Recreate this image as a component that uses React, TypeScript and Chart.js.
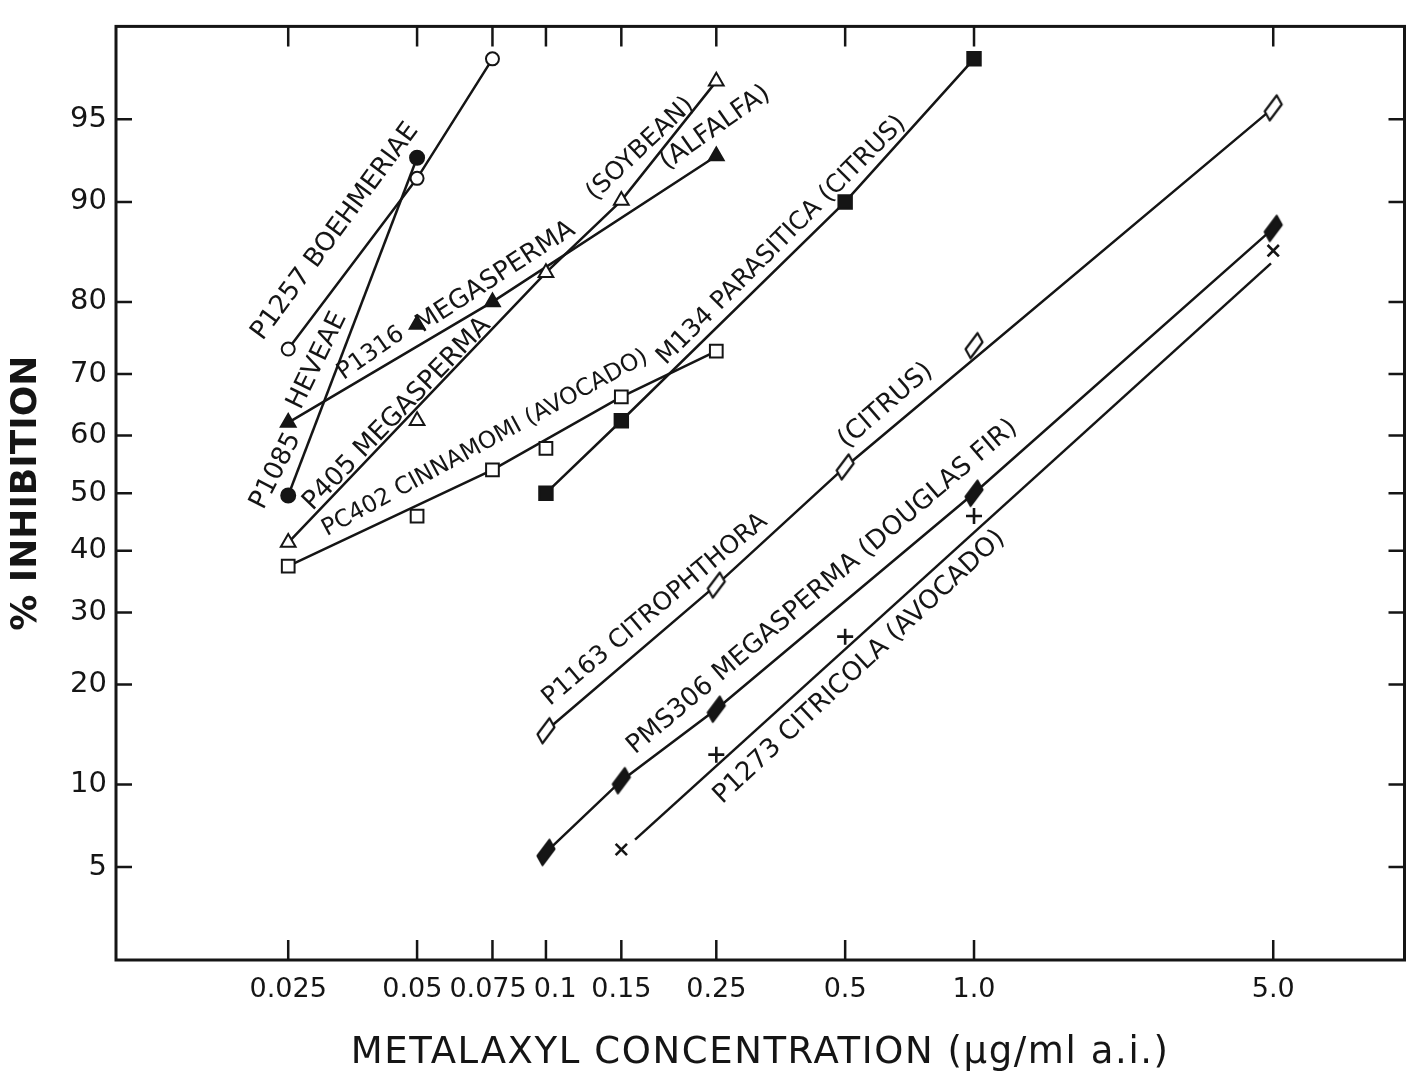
import React, { useEffect, useRef } from 'react';
import { Chart, Scale, registerables } from 'chart.js';

// ---------- axis ticks ----------
const X_TICKS = [0.025, 0.05, 0.075, 0.1, 0.15, 0.25, 0.5, 1.0, 5.0];
const X_TICK_LABELS = ['0.025', '0.05', '0.075', '0.1', '0.15', '0.25', '0.5', '1.0', '5.0'];
const Y_TICKS = [5, 10, 20, 30, 40, 50, 60, 70, 80, 90, 95];
const X_MIN = 0.0099;
const X_MAX = 10.13;
const Y_MIN = 2;
const Y_MAX = 98;
const X_TITLE = 'METALAXYL CONCENTRATION (µg/ml a.i.)';
const Y_TITLE = '% INHIBITION';

// ---------- series (concentration µg/ml, % inhibition) ----------
const P1257_X = [0.025, 0.05, 0.075];
const P1257_Y = [73.7, 91.7, 97.2];

const P1085_X = [0.025, 0.05];
const P1085_Y = [49.6, 93.0];

const P1316_X = [0.025, 0.05, 0.075, 0.25];
const P1316_Y = [62.2, 77.1, 80.0, 93.1];
const P1316_LINE_X = [0.025, 0.075, 0.25];
const P1316_LINE_Y = [62.2, 80.0, 93.1];

const P405_X = [0.025, 0.05, 0.1, 0.15, 0.25];
const P405_Y = [41.4, 62.5, 83.4, 90.1, 96.5];
const P405_LINE_X = [0.025, 0.1, 0.15, 0.25];
const P405_LINE_Y = [41.4, 83.4, 90.1, 96.5];

const PC402_X = [0.025, 0.05, 0.075, 0.1, 0.15, 0.25];
const PC402_Y = [37.4, 46.0, 54.1, 57.8, 66.4, 73.4];
const PC402_LINE_X = [0.025, 0.075, 0.15, 0.25];
const PC402_LINE_Y = [37.4, 54.1, 66.4, 73.4];

const M134_X = [0.1, 0.15, 0.5, 1.0];
const M134_Y = [50.0, 62.5, 90.0, 97.2];

const P1163_X = [0.1, 0.25, 0.5, 1.0, 5.0];
const P1163_Y = [14.8, 34.3, 54.6, 74.2, 95.5];
const P1163_LINE_X = [0.1, 0.25, 0.5, 5.0];
const P1163_LINE_Y = [14.8, 34.3, 54.6, 95.5];

const PMS306_X = [0.1, 0.15, 0.25, 1.0, 5.0];
const PMS306_Y = [5.7, 10.3, 17.1, 50.0, 87.8];

const P1273_X = [0.15, 0.25, 0.5, 1.0, 5.0];
const P1273_Y = [5.85, 12.5, 26.4, 46.0, 85.7];
const P1273_LINE_X = [0.1615, 4.94];
const P1273_LINE_Y = [6.37, 84.4];

// ---------- curve labels ----------
const LABEL_TEXT = [
  'P1257 BOEHMERIAE',
  'P1085',
  'HEVEAE',
  'P1316',
  'MEGASPERMA',
  '(ALFALFA)',
  'P405 MEGASPERMA',
  '(SOYBEAN)',
  'PC402 CINNAMOMI (AVOCADO)',
  'M134 PARASITICA (CITRUS)',
  'P1163 CITROPHTHORA',
  '(CITRUS)',
  'PMS306 MEGASPERMA (DOUGLAS FIR)',
  'P1273 CITRICOLA (AVOCADO)',
];
const LABEL_X = [0.0322, 0.0234, 0.02925, 0.039, 0.0763, 0.2487, 0.0449, 0.1663, 0.0721, 0.3553, 0.1798, 0.622, 0.4425, 0.5398];
const LABEL_Y = [87.5, 53.9, 72.0, 73.05, 82.9, 94.6, 63.6, 93.5, 58.7, 86.7, 30.4, 65.0, 33.97, 22.2];
const LABEL_ANGLE = [-53.5, -63, -64, -35, -33, -35, -46, -43.5, -28.5, -45, -40, -41, -40.3, -43];
const LABEL_SIZE = [26, 26, 26, 24, 26, 26, 26, 25, 23.5, 25, 25, 26, 26, 26];

const INK = '#151515';
const X_TICK_FONT = '27px "DejaVu Sans"';

// ---------- probit helpers ----------
function normCdf(z: number): number {
  const x = Math.abs(z) / Math.SQRT2;
  const t = 1 / (1 + 0.3275911 * x);
  const erf =
    1 -
    ((((1.061405429 * t - 1.453152027) * t + 1.421413741) * t - 0.284496736) * t + 0.254829592) *
      t *
      Math.exp(-x * x);
  return z >= 0 ? 0.5 * (1 + erf) : 0.5 * (1 - erf);
}

function probit(p: number): number {
  const a = [-3.969683028665376e1, 2.209460984245205e2, -2.759285104469687e2, 1.38357751867269e2, -3.066479806614716e1, 2.506628277459239];
  const b = [-5.447609879822406e1, 1.615858368580409e2, -1.556989798598866e2, 6.680131188771972e1, -1.328068155288572e1];
  const c = [-7.784894002430293e-3, -3.223964580411365e-1, -2.400758277161838, -2.549732539343734, 4.374664141464968, 2.938163982698783];
  const d = [7.784695709041462e-3, 3.224671290700398e-1, 2.445134137142996, 3.754408661907416];
  const pl = 0.02425;
  const ph = 1 - pl;
  if (p <= 0) return -8;
  if (p >= 1) return 8;
  if (p < pl) {
    const q = Math.sqrt(-2 * Math.log(p));
    return (((((c[0] * q + c[1]) * q + c[2]) * q + c[3]) * q + c[4]) * q + c[5]) / ((((d[0] * q + d[1]) * q + d[2]) * q + d[3]) * q + 1);
  }
  if (p <= ph) {
    const q = p - 0.5;
    const r = q * q;
    return ((((((a[0] * r + a[1]) * r + a[2]) * r + a[3]) * r + a[4]) * r + a[5]) * q) / (((((b[0] * r + b[1]) * r + b[2]) * r + b[3]) * r + b[4]) * r + 1);
  }
  const q = Math.sqrt(-2 * Math.log(1 - p));
  return -(((((c[0] * q + c[1]) * q + c[2]) * q + c[3]) * q + c[4]) * q + c[5]) / ((((d[0] * q + d[1]) * q + d[2]) * q + d[3]) * q + 1);
}

// Probability (probit) axis for percentages
class ProbitScale extends Scale {
  static id = 'probit';
  static defaults = {};

  determineDataLimits() {
    const { min, max } = (this as any).getUserBounds();
    (this as any).min = isFinite(min) ? min : 1;
    (this as any).max = isFinite(max) ? max : 99;
  }

  buildTicks() {
    const vals: number[] = ((this as any).options.ticks && (this as any).options.ticks.values) || [];
    return vals.map((v) => ({ value: v }));
  }

  getLabelForValue(value: number) {
    return String(value);
  }

  configure() {
    super.configure();
    (this as any)._zMin = probit((this as any).min / 100);
    (this as any)._zMax = probit((this as any).max / 100);
  }

  getPixelForValue(value: number) {
    if (value === null || value === undefined || isNaN(value)) return NaN;
    const s = this as any;
    const z = probit(value / 100);
    return s.getPixelForDecimal((z - s._zMin) / (s._zMax - s._zMin));
  }

  getValueForPixel(pixel: number) {
    const s = this as any;
    const dec = s.getDecimalForPixel(pixel);
    return normCdf(s._zMin + dec * (s._zMax - s._zMin)) * 100;
  }

  getPixelForTick(index: number) {
    const t = (this as any).ticks[index];
    return t ? this.getPixelForValue(t.value) : NaN;
  }
}

Chart.register(...registerables, ProbitScale as any);

function pts(xs: number[], ys: number[]) {
  return xs.map((x, i) => ({ x, y: ys[i] }));
}

function makeDiamond(filled: boolean): HTMLCanvasElement {
  const c = document.createElement('canvas');
  c.width = 24;
  c.height = 32;
  const g = c.getContext('2d')!;
  g.translate(12, 16);
  g.beginPath();
  g.moveTo(3.5, -12.5);
  g.lineTo(8.5, -3.5);
  g.lineTo(-3.5, 12.5);
  g.lineTo(-8.5, 3.5);
  g.closePath();
  g.lineJoin = 'round';
  g.lineWidth = 2.2;
  g.strokeStyle = INK;
  g.fillStyle = filled ? INK : '#ffffff';
  g.fill();
  g.stroke();
  return c;
}

const framePlugin = {
  id: 'frameTicks',
  afterDraw(chart: any) {
    const { ctx, chartArea: a, scales } = chart;
    const x = scales.x;
    const y = scales.y;
    ctx.save();
    ctx.strokeStyle = INK;
    ctx.lineWidth = 2.5;
    ctx.beginPath();
    X_TICKS.forEach((v) => {
      const px = x.getPixelForValue(v);
      ctx.moveTo(px, a.bottom);
      ctx.lineTo(px, a.bottom - 20);
      ctx.moveTo(px, a.top);
      ctx.lineTo(px, a.top + 20);
    });
    Y_TICKS.forEach((v) => {
      const py = y.getPixelForValue(v);
      ctx.moveTo(a.left, py);
      ctx.lineTo(a.left + 16, py);
      ctx.moveTo(a.right, py);
      ctx.lineTo(a.right - 16, py);
    });
    ctx.stroke();
    ctx.lineWidth = 3;
    ctx.strokeRect(a.left, a.top, a.right - a.left, a.bottom - a.top);

    // x tick labels: centred on their ticks, nudged apart where neighbours would touch
    ctx.fillStyle = INK;
    ctx.font = X_TICK_FONT;
    ctx.textAlign = 'left';
    ctx.textBaseline = 'middle';
    const items = X_TICK_LABELS.map((t, i) => {
      const w = ctx.measureText(t).width;
      const c = x.getPixelForValue(X_TICKS[i]);
      return { t, w, l: c - w / 2 };
    });
    const GAP = 7;
    for (let iter = 0; iter < 20; iter++) {
      for (let i = 0; i < items.length - 1; i++) {
        const A = items[i];
        const B = items[i + 1];
        const ov = A.l + A.w + GAP - B.l;
        if (ov > 0) {
          A.l -= ov / 2;
          B.l += ov / 2;
        }
      }
    }
    items.forEach((it) => ctx.fillText(it.t, it.l, a.bottom + 30));

    // x-axis title (spaced lettering)
    ctx.font = '37px "DejaVu Sans"';
    try {
      (ctx as any).letterSpacing = '1.6px';
    } catch (e) {
      /* ignore */
    }
    ctx.textAlign = 'center';
    ctx.fillText(X_TITLE, (a.left + a.right) / 2, x.bottom - 25);
    try {
      (ctx as any).letterSpacing = '0px';
    } catch (e) {
      /* ignore */
    }
    ctx.restore();
  },
};

const labelPlugin = {
  id: 'curveLabels',
  afterDatasetsDraw(chart: any) {
    const { ctx, scales } = chart;
    const x = scales.x;
    const y = scales.y;
    LABEL_TEXT.forEach((t, i) => {
      const px = x.getPixelForValue(LABEL_X[i]);
      const py = y.getPixelForValue(LABEL_Y[i]);
      ctx.save();
      ctx.translate(px, py);
      ctx.rotate((LABEL_ANGLE[i] * Math.PI) / 180);
      ctx.font = `${LABEL_SIZE[i]}px "DejaVu Sans"`;
      ctx.fillStyle = INK;
      ctx.textAlign = 'center';
      ctx.textBaseline = 'middle';
      ctx.fillText(t, 0, 0);
      ctx.restore();
    });
  },
};

export default function App() {
  const ref = useRef<HTMLCanvasElement>(null);

  useEffect(() => {
    if (!ref.current) return;
    const openDiamond = makeDiamond(false);
    const filledDiamond = makeDiamond(true);

    const lineOnly = (data: any[]) => ({
      data,
      showLine: true,
      borderColor: INK,
      borderWidth: 2.5,
      pointRadius: 0,
      tension: 0,
      fill: false,
      order: 2,
    });
    const markers = (data: any[], style: any, filled: boolean, radius: number, withLine: boolean, bw = 2) => ({
      data,
      showLine: withLine,
      borderColor: INK,
      borderWidth: 2.5,
      tension: 0,
      fill: false,
      pointStyle: style,
      pointRadius: radius,
      pointBorderWidth: bw,
      pointBorderColor: INK,
      pointBackgroundColor: filled ? INK : '#ffffff',
      order: withLine ? 1 : 0,
    });

    const datasets: any[] = [
      markers(pts(P1257_X, P1257_Y), 'circle', false, 6.5, true),
      markers(pts(P1085_X, P1085_Y), 'circle', true, 7, true),
      lineOnly(pts(P1316_LINE_X, P1316_LINE_Y)),
      markers(pts(P1316_X, P1316_Y), 'triangle', true, 8.5, false),
      lineOnly(pts(P405_LINE_X, P405_LINE_Y)),
      markers(pts(P405_X, P405_Y), 'triangle', false, 8.5, false),
      lineOnly(pts(PC402_LINE_X, PC402_LINE_Y)),
      markers(pts(PC402_X, PC402_Y), 'rect', false, 9, false),
      markers(pts(M134_X, M134_Y), 'rect', true, 9.5, true),
      lineOnly(pts(P1163_LINE_X, P1163_LINE_Y)),
      markers(pts(P1163_X, P1163_Y), openDiamond, false, 8, false),
      markers(pts(PMS306_X, PMS306_Y), filledDiamond, true, 8, true),
      lineOnly(pts(P1273_LINE_X, P1273_LINE_Y)),
      markers(pts(P1273_X, P1273_Y), ['crossRot', 'cross', 'cross', 'cross', 'crossRot'], false, 8, false, 2.6),
    ];

    const chart = new Chart(ref.current, {
      type: 'line',
      data: { datasets },
      options: {
        animation: false,
        responsive: false,
        maintainAspectRatio: false,
        layout: { padding: { top: 13, right: 7, left: 0, bottom: 0 } },
        plugins: { legend: { display: false }, tooltip: { enabled: false } },
        scales: {
          x: {
            type: 'logarithmic',
            position: 'bottom',
            min: X_MIN,
            max: X_MAX,
            bounds: 'data',
            afterBuildTicks: (s: any) => {
              s.ticks = X_TICKS.map((v) => ({ value: v }));
            },
            afterFit: (s: any) => {
              s.height = 118;
            },
            ticks: {
              display: false,
              autoSkip: false,
              maxRotation: 0,
              minRotation: 0,
              callback: (_v: any, i: number) => X_TICK_LABELS[i],
            },
            grid: { display: false, drawTicks: false },
            border: { display: false },
            title: { display: false },
          },
          y: {
            type: 'probit' as any,
            position: 'left',
            min: Y_MIN,
            max: Y_MAX,
            afterFit: (s: any) => {
              s.width = 116;
            },
            ticks: {
              values: Y_TICKS,
              padding: 9,
              color: INK,
              font: { family: 'DejaVu Sans', size: 29 },
              callback: (v: any) => String(v),
            } as any,
            grid: { display: false, drawTicks: false },
            border: { display: false },
            title: {
              display: true,
              text: Y_TITLE,
              color: INK,
              font: { family: 'DejaVu Sans', size: 36, weight: 'bold' },
              padding: { top: 5, bottom: 0 },
            },
          },
        },
      } as any,
      plugins: [framePlugin, labelPlugin],
    });

    return () => chart.destroy();
  }, []);

  return (
    <div style={{ position: 'fixed', left: 0, top: 0, width: 1416, height: 1078, background: '#ffffff' }}>
      <canvas ref={ref} width={1416} height={1078} style={{ display: 'block' }} />
    </div>
  );
}
